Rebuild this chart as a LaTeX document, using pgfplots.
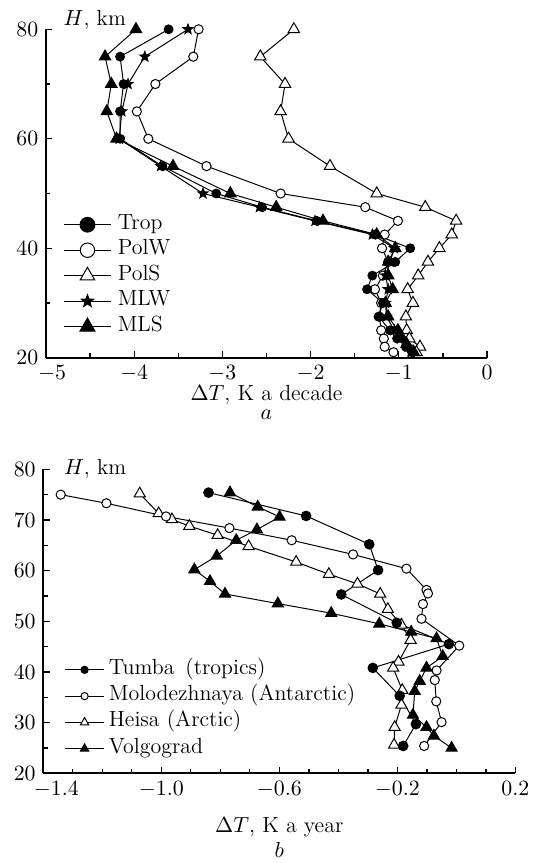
\documentclass[border=0pt]{standalone}
\usepackage{pgfplots}
\pgfplotsset{compat=1.18}
\usetikzlibrary{plotmarks}

\pgfdeclareplotmark{fstar}{%
  \pgfpathmoveto{\pgfpointpolar{90}{\pgfplotmarksize}}%
  \pgfpathlineto{\pgfpointpolar{126}{0.42\pgfplotmarksize}}%
  \pgfpathlineto{\pgfpointpolar{162}{\pgfplotmarksize}}%
  \pgfpathlineto{\pgfpointpolar{198}{0.42\pgfplotmarksize}}%
  \pgfpathlineto{\pgfpointpolar{234}{\pgfplotmarksize}}%
  \pgfpathlineto{\pgfpointpolar{270}{0.42\pgfplotmarksize}}%
  \pgfpathlineto{\pgfpointpolar{306}{\pgfplotmarksize}}%
  \pgfpathlineto{\pgfpointpolar{342}{0.42\pgfplotmarksize}}%
  \pgfpathlineto{\pgfpointpolar{18}{\pgfplotmarksize}}%
  \pgfpathlineto{\pgfpointpolar{54}{0.42\pgfplotmarksize}}%
  \pgfpathclose
  \pgfusepathqfillstroke
}

\pgfplotsset{
  myaxis/.style={
    scale only axis, axis lines*=left, tick align=inside,
    axis line style={line width=0.9pt},
    every tick/.style={line width=0.7pt, black},
    major tick length=3.2bp, minor tick length=2.2bp,
    clip=false,
    ticklabel style={font=\fontsize{11}{13}\selectfont},
    legend cell align=left,
  },
  sfill/.style={black, line width=0.5pt, mark=*, mark size=2.2bp, mark options={fill=black, solid}},
  sopen/.style={black, line width=0.5pt, mark=*, mark size=2.3bp, mark options={fill=white, solid}},
  stri/.style={black, line width=0.5pt, mark=triangle*, mark size=3.3bp, mark options={fill=white, solid}},
  sftri/.style={black, line width=0.5pt, mark=triangle*, mark size=3.3bp, mark options={fill=black, solid}},
  sstar/.style={black, line width=0.5pt, mark=fstar, mark size=2.6bp, mark options={fill=black, solid}},
}

\begin{document}
\fontsize{11}{13}\selectfont
\begin{tikzpicture}
\path[use as bounding box] (0,0) rectangle (269.5bp,-431.5bp);

% ---------------- panel a ----------------
\begin{axis}[myaxis,
  at={(23bp,-178.85bp)}, anchor=south west,
  width=220.5bp, height=164.2bp,
  xmin=-5, xmax=0, ymin=20, ymax=80,
  xtick={-5,-4,-3,-2,-1,0},
  xticklabels={\hspace*{6bp}$-5$,$-4$,$-3$,$-2$,$-1$,$0$},
  minor x tick num=1,
  ytick={20,40,60,80}, minor y tick num=1,
  legend image code/.code={\draw[mark repeat=2,mark phase=2,#1] plot coordinates {(0cm,0cm) (0.42cm,0cm) (0.84cm,0cm)};},
  legend style={draw=none, fill=none, at={(0.038,0.445)}, anchor=north west,
    font=\fontsize{11}{13}\selectfont, inner sep=0pt, row sep=0pt,
    nodes={inner ysep=0pt, inner xsep=3pt, text height=8.6bp, text depth=4.15bp}},
]
\addlegendimage{sfill, mark size=3.7bp}\addlegendentry{Trop}
\addlegendimage{sopen, mark size=3.6bp}\addlegendentry{PolW}
\addlegendimage{stri, mark size=4.2bp}\addlegendentry{PolS}
\addlegendimage{sstar, mark size=3.2bp}\addlegendentry{MLW}
\addlegendimage{sftri, mark size=4.3bp}\addlegendentry{MLS}

\addplot[stri, forget plot] coordinates {
(-2.19,80) (-2.57,75) (-2.29,70) (-2.34,65) (-2.25,60) (-1.78,55) (-1.25,50)
(-0.70,47.5) (-0.35,45) (-0.40,42.5) (-0.54,40) (-0.67,37.5) (-0.78,35)
(-0.90,32.5) (-0.84,30) (-0.92,27.5) (-0.91,25) (-0.88,23.5) (-0.76,22) (-0.80,21)};
\addplot[sopen, forget plot] coordinates {
(-3.27,80) (-3.33,75) (-3.76,70) (-3.97,65) (-3.84,60) (-3.18,55) (-2.34,50)
(-1.38,47.5) (-1.01,45) (-1.16,42.5) (-1.19,40) (-1.12,37.5) (-1.18,35)
(-1.27,32.5) (-1.20,30) (-1.22,27.5) (-1.20,25) (-1.17,23.5) (-1.16,22) (-1.06,21)};
\addplot[sstar, forget plot] coordinates {
(-3.39,80) (-3.88,75) (-4.07,70) (-4.14,65) (-4.17,60) (-3.70,55) (-3.22,50)
(-2.58,47.5) (-1.95,45) (-1.30,42.5) (-1.05,40) (-1.10,37.5) (-1.15,35)
(-1.12,32.5) (-1.15,30) (-1.14,27.5) (-1.05,25) (-0.98,23.5) (-0.90,22) (-0.86,21)};
\addplot[sfill, forget plot] coordinates {
(-3.61,80) (-4.16,75) (-4.12,70) (-4.16,65) (-4.16,60) (-3.68,55) (-3.07,50)
(-2.55,47.5) (-1.93,45) (-1.27,42.5) (-0.87,40) (-1.04,37.5) (-1.30,35)
(-1.36,32.5) (-1.18,30) (-1.23,27.5) (-1.10,25) (-1.02,23.5) (-0.92,22) (-0.85,21)};
\addplot[sftri, forget plot] coordinates {
(-3.98,80) (-4.33,75) (-4.26,70) (-4.31,65) (-4.20,60) (-3.56,55) (-2.91,50)
(-2.39,47.5) (-1.86,45) (-1.25,42.5) (-1.04,40) (-1.12,37.5) (-1.12,35)
(-1.07,32.5) (-1.15,30) (-1.12,27.5) (-1.01,25) (-0.96,23.5) (-0.91,22.5) (-0.83,21)};

\node[anchor=west] at (rel axis cs:0,1) [xshift=5bp, yshift=4.6bp] {$H$, km};
\node at (rel axis cs:0.5,0) [yshift=-18.5bp] {$\Delta T$, K a decade};
\node at (rel axis cs:0.5,0) [yshift=-28.5bp] {$a$};
\end{axis}

% ---------------- panel b ----------------
\begin{axis}[myaxis,
  at={(21.65bp,-386.65bp)}, anchor=south west,
  width=236bp, height=152bp,
  xmin=-1.4, xmax=0.2, ymin=20, ymax=80,
  xtick={-1.4,-1.0,-0.6,-0.2,0.2},
  xticklabels={\hspace*{13bp}$-1.4$,$-1.0$,$-0.6$,$-0.2$,$0.2$},
  minor x tick num=3,
  ytick={20,30,40,50,60,70,80}, minor y tick num=1,
  legend image code/.code={\draw[mark repeat=2,mark phase=2,#1] plot coordinates {(0cm,0cm) (0.35cm,0cm) (0.7cm,0cm)};},
  legend style={draw=none, fill=none, at={(0.0435,0.385)}, anchor=north west,
    font=\fontsize{11}{13}\selectfont, inner sep=0pt, row sep=0pt,
    nodes={inner ysep=0pt, inner xsep=2pt, text height=8.8bp, text depth=4.35bp}},
]
\addlegendimage{sfill, mark size=1.8bp}\addlegendentry{Tumba\enspace(tropics)}
\addlegendimage{sopen, mark size=1.8bp}\addlegendentry{Molodezhnaya (Antarctic)}
\addlegendimage{stri, mark size=2.4bp}\addlegendentry{Heisa (Arctic)}
\addlegendimage{sftri, mark size=2.4bp}\addlegendentry{Volgograd}

\addplot[stri, mark size=3.2bp, forget plot] coordinates {
(-1.073,75.2) (-1.009,71.3) (-0.964,70.1) (-0.905,68.8) (-0.809,67.0) (-0.704,64.8)
(-0.543,61.7) (-0.432,59.3) (-0.335,57.4) (-0.258,55.4) (-0.232,52.4) (-0.186,49.3)
(-0.155,46.3) (-0.196,42.0) (-0.214,40.8) (-0.183,36.4) (-0.186,33.5) (-0.209,29.1) (-0.211,25.6)};
\addplot[sopen, forget plot] coordinates {
(-1.341,75.0) (-1.186,73.3) (-0.984,70.7) (-0.769,68.4) (-0.558,66.0) (-0.350,63.2)
(-0.169,60.4) (-0.101,56.2) (-0.096,55.5) (-0.113,53.4) (-0.118,50.5) (0.010,45.2)
(-0.067,40.3) (-0.073,38.4) (-0.068,34.2) (-0.050,30.1) (-0.109,25.4)};
\addplot[sfill, mark size=2.4bp, forget plot] coordinates {
(-0.840,75.4) (-0.509,70.8) (-0.295,65.2) (-0.265,60.1) (-0.390,55.3) (-0.202,49.7)
(-0.025,45.5) (-0.283,40.8) (-0.192,35.3) (-0.137,29.7) (-0.180,25.4)};
\addplot[sftri, mark size=3.2bp, forget plot] coordinates {
(-0.767,75.4) (-0.673,72.6) (-0.599,70.6) (-0.676,68.1) (-0.746,66.0) (-0.812,62.9)
(-0.888,60.2) (-0.835,57.9) (-0.784,55.4) (-0.605,53.5) (-0.424,51.6) (-0.261,49.5)
(-0.153,47.9) (-0.067,46.6) (-0.046,43.1) (-0.101,40.8) (-0.124,38.2) (-0.141,36.2)
(-0.147,31.5) (-0.101,29.1) (-0.076,27.4) (-0.016,25.0)};

\node[anchor=west] at (rel axis cs:0,1) [xshift=6.5bp, yshift=0bp] {$H$, km};
\node at (rel axis cs:0.5,0) [yshift=-26.8bp] {$\Delta T$, K a year};
\node at (rel axis cs:0.5,0) [yshift=-38.5bp] {$b$};
\end{axis}
\end{tikzpicture}
\end{document}
